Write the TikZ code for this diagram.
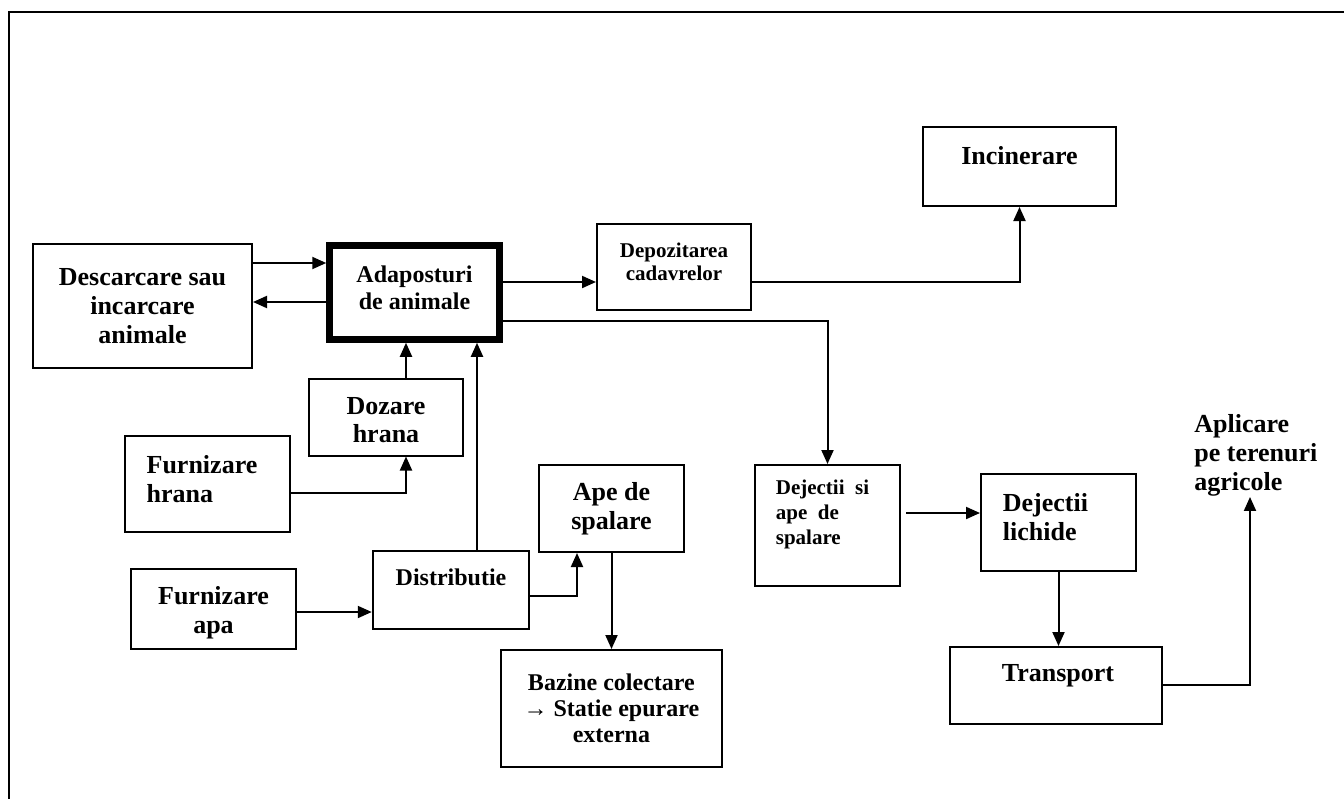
\documentclass[tikz,border=0pt]{standalone}
\usepackage{fontspec}
\setmainfont{Liberation Serif}
\usetikzlibrary{arrows.meta}
\begin{document}
\begin{tikzpicture}[x=0.5pt,y=-0.5pt,
  box/.style={draw, line width=1pt, rectangle, inner sep=0pt},
  thickbox/.style={draw, line width=3.25pt, rectangle, inner sep=0pt},
  txt/.style={inner sep=0pt, align=center, font=\bfseries},
  big/.style={font=\fontsize{13}{14.6}\selectfont\bfseries},
  mid/.style={font=\fontsize{12}{13.3}\selectfont\bfseries},
  sml/.style={font=\fontsize{10.5}{11.6}\selectfont\bfseries},
  conn/.style={line width=1pt, -{Triangle[length=7pt,width=6pt]}},
  plain/.style={line width=1pt},
  frame/.style={line width=1pt}
]
\useasboundingbox (0,0) rectangle (1344,798);
\draw[frame] (9,800) -- (9,12) -- (1346,12);

% boxes
\node[box, minimum width=109.5pt, minimum height=62pt,
  label={[txt,big]center:Descarcare sau\\incarcare\\animale}] (desc) at (142.5,306) {};
\node[thickbox, minimum width=85pt, minimum height=47pt,
  label={[txt,mid,yshift=2.5pt]center:Adaposturi\\de animale}] (adap) at (414.5,292.5) {};
\node[box, minimum width=77pt, minimum height=38.5pt,
  label={[txt,font=\fontsize{13}{14}\selectfont\bfseries,yshift=-1.5pt]center:Dozare\\hrana}] (doz) at (386,417) {};
\node[box, minimum width=82.5pt, minimum height=48pt,
  label={[txt,big,align=left,xshift=-2.75pt,yshift=2.5pt]center:Furnizare\\hrana}] (fh) at (207.5,484) {};
\node[box, minimum width=82.5pt, minimum height=40pt,
  label={[txt,big,yshift=-1.75pt]center:Furnizare\\apa}] (fa) at (213.5,609) {};
\node[box, minimum width=78.25pt, minimum height=39pt,
  label={[txt,mid,yshift=6.5pt]center:Distributie}] (dist) at (451,590) {};
\node[box, minimum width=72.5pt, minimum height=43.5pt,
  label={[txt,big]center:Ape de\\spalare}] (ape) at (611.5,508.5) {};
\node[box, minimum width=110.5pt, minimum height=58.5pt,
  label={[txt,font=\fontsize{12}{13}\selectfont\bfseries]center:Bazine colectare\\→ Statie epurare\\externa}] (baz) at (611.4,708.5) {};
\node[box, minimum width=77pt, minimum height=43pt,
  label={[txt,sml,yshift=2.75pt]center:Depozitarea\\cadavrelor}] (depo) at (674,267) {};
\node[box, minimum width=96.5pt, minimum height=39.5pt,
  label={[txt,big,yshift=5.5pt]center:Incinerare}] (inc) at (1019.5,166.5) {};
\node[box, minimum width=72.5pt, minimum height=60.5pt,
  label={[txt,font=\fontsize{10.5}{12.5}\selectfont\bfseries,align=left,xshift=-2.5pt,yshift=5.75pt]center:Dejectii\ \ si\\ape\ \ de\\spalare}] (dsa) at (827.5,525.5) {};
\node[box, minimum width=77.5pt, minimum height=48.5pt,
  label={[txt,big,align=left,xshift=-6.5pt,yshift=2.75pt]center:Dejectii\\lichide}] (dl) at (1058.5,522.5) {};
\node[box, minimum width=106pt, minimum height=38.5pt,
  label={[txt,big,xshift=1pt,yshift=5pt]center:Transport}] (tr) at (1056,685.5) {};
\node[txt,big,align=left,anchor=north west] (apl) at (1194,414) {Aplicare\\pe terenuri\\agricole};

% connectors
\draw[conn] (desc.east |- 0,263) -- (adap.west |- 0,263);
\draw[conn] (adap.west |- 0,302) -- (desc.east |- 0,302);
\draw[conn] ([xshift=10pt]doz.north) -- ([xshift=10pt]doz.north |- adap.south);
\draw[conn] (fh.east |- 0,493) -| ([xshift=10pt]doz.south);
\draw[conn] (dist.north -| 477,0) -- (adap.south -| 477,0);
\draw[conn] (fa.east |- 0,612) -- (dist.west |- 0,612);
\draw[conn] (dist.east |- 0,596) -| (ape.south -| 577,0);
\draw[conn] (ape.south) -- (ape.south |- baz.north);
\draw[conn] (adap.east |- 0,282) -- (depo.west |- 0,282);
\draw[conn] (depo.east |- 0,282) -| (inc.south);
\draw[conn] (adap.east |- 0,321) -| (dsa.north);
\draw[conn] ([xshift=2.5pt]dsa.east |- 0,513) -- (dl.west |- 0,513);
\draw[conn] (dl.south) -- (dl.south |- tr.north);
\draw[conn] (tr.east |- 0,685) -| (apl.south -| 1250,0);
\end{tikzpicture}
\end{document}
